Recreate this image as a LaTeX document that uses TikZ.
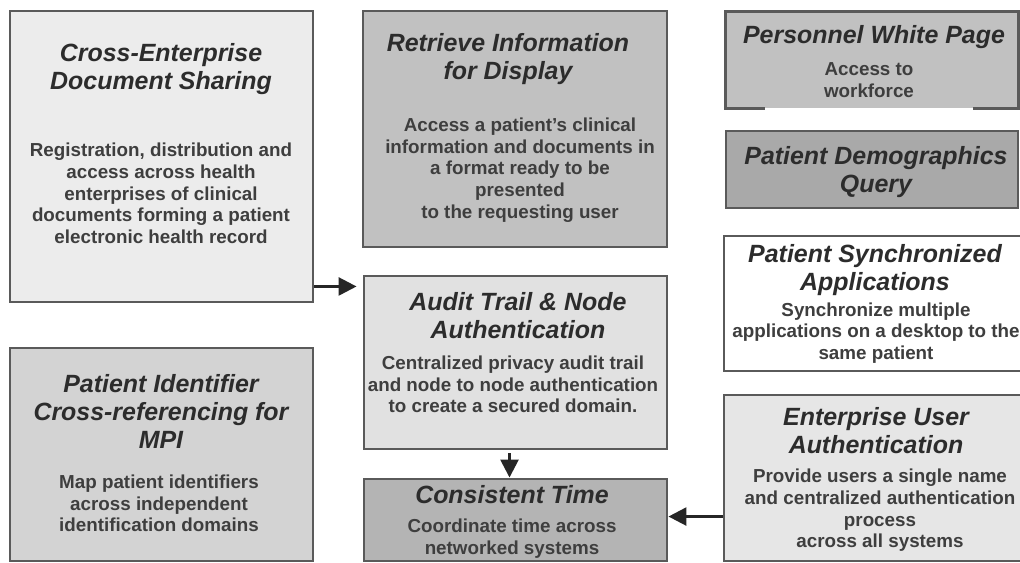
\documentclass[tikz,border=0pt]{standalone}
\usepackage{fontspec}
\setmainfont{Liberation Sans}
\usetikzlibrary{arrows.meta,fit}

\definecolor{boxline}{HTML}{5A5A5A}
\definecolor{ttlcol}{HTML}{2C2C2C}
\definecolor{txtcol}{HTML}{3E3E3E}
\definecolor{arrcol}{HTML}{262626}
\definecolor{fillA}{HTML}{ECECEC}
\definecolor{fillB}{HTML}{C1C1C1}
\definecolor{fillC}{HTML}{A9A9A9}
\definecolor{fillD}{HTML}{E1E1E1}
\definecolor{fillE}{HTML}{E6E6E6}
\definecolor{fillF}{HTML}{D3D3D3}
\definecolor{fillG}{HTML}{B4B4B4}

\tikzset{
  box/.style={draw=boxline, line width=2.2pt, inner sep=0pt, line join=miter},
  ttl/.style={font=\bfseries\itshape\fontsize{18.7}{21}\selectfont, text=ttlcol, align=center, inner sep=0pt},
  txt/.style={font=\bfseries\fontsize{14.1}{16.3}\selectfont, text=txtcol, align=center, inner sep=0pt},
  arr/.style={draw=arrcol, line width=2pt, -{Triangle[length=13.5pt,width=13.5pt]}},
}

\begin{document}
\begin{tikzpicture}[x=0.75pt,y=-0.75pt]
\useasboundingbox (0,0) rectangle (1020,563);
\clip (0,0) rectangle (1020,563);

% boxes
\node[box, fill=fillA, fit={(10,11)(313,302)}] (XDS) {};
\node[box, fill=fillB, fit={(363,11)(667,247)}] (RID) {};
\node[inner sep=0pt, fill=fillB, fit={(726,12)(1018,108)}] (PWP) {};
\draw[draw=boxline, line width=2.2pt, line join=miter]
  ([xshift=29.25pt]PWP.south west) -- (PWP.south west) -- (PWP.north west)
  -- (PWP.north east) -- (PWP.south east) -- ([xshift=-33.75pt]PWP.south east);
\node[box, fill=fillC, fit={(726,131)(1018,208)}] (PDQ) {};
\node[box, fill=white, fit={(724,236)(1040,371)}] (PSA) {};
\node[box, fill=fillD, fit={(364,276)(667,449)}] (ATNA) {};
\node[box, fill=fillE, fit={(724,395)(1040,561)}] (EUA) {};
\node[box, fill=fillF, fit={(10,348)(313,561)}] (PIX) {};
\node[box, fill=fillG, fit={(364,479)(667,561)}] (CT) {};

% texts
\node[ttl] (XDSt) at (161,69) {Cross-Enterprise\\Document Sharing};
\node[txt] (XDSb) at (161,193.5) {Registration, distribution and\\access across health\\enterprises of clinical\\documents forming a patient\\electronic health record};

\node[ttl] (RIDt) at (508,59) {Retrieve Information\\for Display};
\node[txt] (RIDb) at (520,170) {Access a patient's clinical\\information and documents in\\a format ready to be\\presented\\to the requesting user};

\node[ttl] (PWPt) at (874,37) {Personnel White Page};
\node[txt] (PWPb) at (869,80) {Access to\\workforce};

\node[ttl] (PDQt) at (876,172) {Patient Demographics\\Query};

\node[ttl] (PSAt) at (875,270) {Patient Synchronized\\Applications};
\node[txt] (PSAb) at (876,333) {Synchronize multiple\\applications on a desktop to the\\same patient};

\node[ttl] (ATNAt) at (518,316) {Audit Trail \& Node\\Authentication};
\node[txt] (ATNAb) at (513,384.5) {Centralized privacy audit trail\\and node to node authentication\\to create a secured domain.};

\node[ttl] (EUAt) at (876,430.5) {Enterprise User\\Authentication};
\node[txt] (EUAb) at (880,510.5) {Provide users a single name\\and centralized authentication\\process\\across all systems};

\node[ttl] (PIXt) at (161,411.5) {Patient Identifier\\Cross-referencing for\\MPI};
\node[txt] (PIXb) at (159,503.5) {Map patient identifiers\\across independent\\identification domains};

\node[ttl] (CTt) at (512,495) {Consistent Time};
\node[txt] (CTb) at (512,538.5) {Coordinate time across\\networked systems};

% connectors
\draw[arr, shorten >=4.5pt] ([yshift=12.75pt]XDS.south east) -- ([yshift=12.75pt]XDS.south east -| ATNA.west);
\draw[arr, shorten <=2pt] ([xshift=-4.5pt]ATNA.south) -- ([xshift=-4.5pt]CT.north);
\draw[arr] ([yshift=2.6pt]CT.east -| EUA.west) -- ([yshift=2.6pt]CT.east);
\end{tikzpicture}
\end{document}
